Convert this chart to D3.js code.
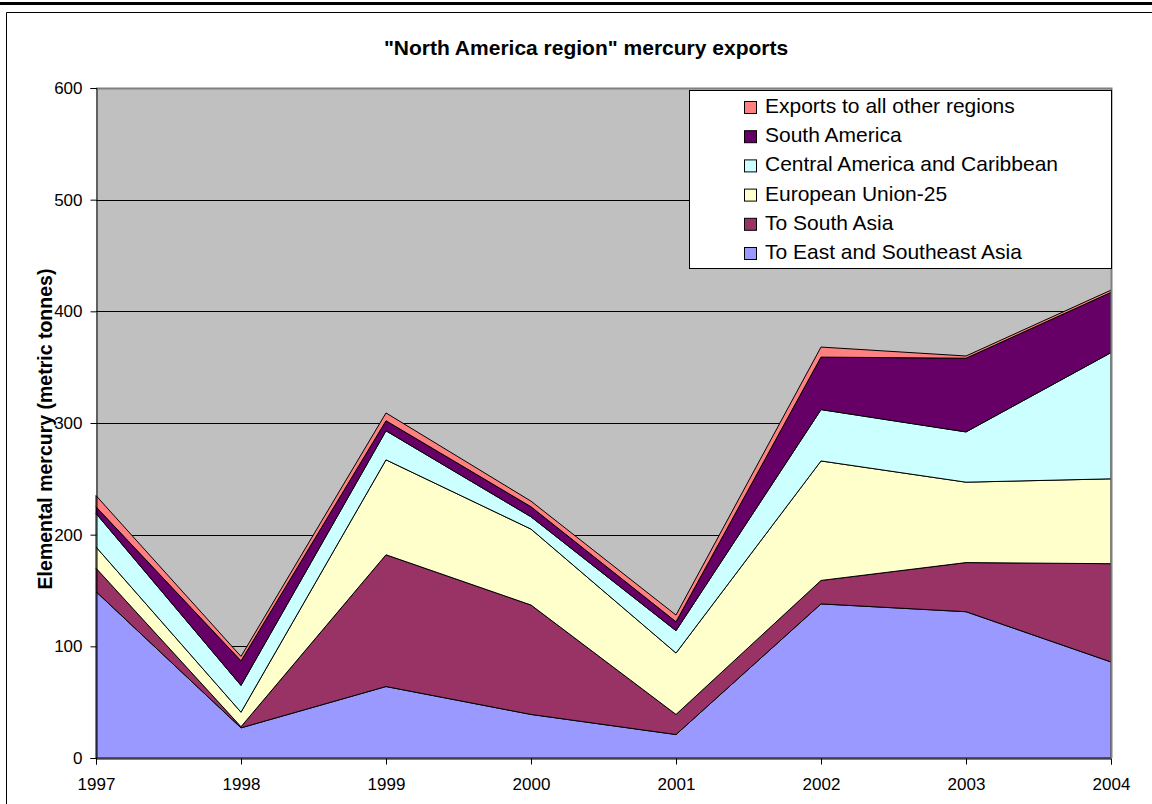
<!DOCTYPE html>
<html>
<head>
<meta charset="utf-8">
<script src="https://cdn.jsdelivr.net/npm/d3@7"></script>
<style>
  body { margin: 0; background: #fff; }
  text { font-family: Arial, "Liberation Sans", sans-serif; }
</style>
</head>
<body>
<div id="chart"></div>
<script>
// years on the x axis
const years = [1997, 1998, 1999, 2000, 2001, 2002, 2003, 2004]

// series, bottom of stack first
const eastSoutheastAsia = [149, 27, 64, 39, 21, 138, 131, 86]
const southAsia         = [21, 1, 118, 98, 18, 21, 44, 88]
const europeanUnion     = [19, 13, 85, 68, 55, 107, 72, 76]
const centralAmerica    = [30, 24, 26, 11, 20, 46, 45, 113]
const southAmerica      = [6, 22, 9, 9, 8, 47, 66, 54]
const otherRegions      = [10, 4, 7, 5, 6, 9, 2, 2]

const seriesNames = [
  'To East and Southeast Asia',
  'To South Asia',
  'European Union-25',
  'Central America and Caribbean',
  'South America',
  'Exports to all other regions'
]
const seriesValues = [eastSoutheastAsia, southAsia, europeanUnion, centralAmerica, southAmerica, otherRegions]
const colors = ['#9999ff', '#993366', '#ffffcc', '#ccffff', '#660066', '#ff8080']
const yTicks = [0, 100, 200, 300, 400, 500, 600]

const width = 1152, height = 804
const plotL = 96, plotR = 1111, plotT = 88, plotB = 758

const svg = d3.select('#chart').append('svg')
  .attr('width', width)
  .attr('height', height)

// outer frame
svg.append('line').attr('x1', 0).attr('x2', width).attr('y1', 3.5).attr('y2', 3.5)
  .attr('stroke', '#000').attr('stroke-width', 3)
svg.append('path').attr('d', `M6.5,${height} V12.5 H${width}`)
  .attr('fill', 'none').attr('stroke', '#000').attr('stroke-width', 1)

const x = d3.scalePoint().domain(years).range([plotL, plotR])
const y = d3.scaleLinear().domain([0, 600]).range([plotB, plotT])

// plot background
svg.append('rect')
  .attr('x', plotL).attr('y', plotT)
  .attr('width', plotR - plotL).attr('height', plotB - plotT)
  .attr('fill', '#c0c0c0')

// gridlines
svg.selectAll('.grid')
  .data(yTicks.filter(d => d > 0 && d < 600))
  .enter().append('line')
  .attr('x1', plotL).attr('x2', plotR)
  .attr('y1', d => Math.round(y(d)) + 0.5).attr('y2', d => Math.round(y(d)) + 0.5)
  .attr('stroke', '#000').attr('stroke-width', 1)

// stacked data
const table = years.map((yr, i) => {
  const row = { year: yr }
  seriesNames.forEach((n, j) => { row[n] = seriesValues[j][i] })
  return row
})
const stack = d3.stack().keys(seriesNames)(table)

const area = d3.area()
  .x(d => x(d.data.year))
  .y0(d => y(d[0]))
  .y1(d => y(d[1]))

svg.selectAll('.layer')
  .data(stack)
  .enter().append('path')
  .attr('d', area)
  .attr('fill', (d, i) => colors[i])
  .attr('stroke', '#000')
  .attr('stroke-width', 1)
  .attr('stroke-linejoin', 'round')

// plot border: top and right gray
svg.append('path')
  .attr('d', `M${plotL},${plotT + 0.5} H${plotR + 0.5} V${plotB}`)
  .attr('fill', 'none').attr('stroke', '#808080').attr('stroke-width', 2)

// axes
const yAxis = d3.axisLeft(y).tickValues(yTicks).tickSize(6).tickPadding(8)
const gy = svg.append('g').attr('transform', `translate(${plotL + 0.5},0)`).call(yAxis)
gy.select('.domain').attr('stroke', '#000')
gy.selectAll('text').attr('font-size', 17).attr('fill', '#000')

const xAxis = d3.axisBottom(x).tickSize(6).tickPadding(13).tickFormat(d3.format('d'))
const gx = svg.append('g').attr('transform', `translate(0,${plotB + 0.5})`).call(xAxis)
gx.select('.domain').attr('stroke', '#000')
gx.selectAll('text').attr('font-size', 17).attr('fill', '#000')

// title
svg.append('text')
  .attr('x', 586).attr('y', 55)
  .attr('text-anchor', 'middle')
  .attr('font-size', 21).attr('font-weight', 'bold')
  .text('"North America region" mercury exports')

// y label
svg.append('text')
  .attr('transform', 'translate(52,429) rotate(-90)')
  .attr('text-anchor', 'middle')
  .attr('font-size', 19.5).attr('font-weight', 'bold')
  .text('Elemental mercury (metric tonnes)')

// legend
svg.append('rect')
  .attr('x', 689.5).attr('y', 90.5)
  .attr('width', 422).attr('height', 178)
  .attr('fill', '#fff').attr('stroke', '#000')

const legendOrder = d3.range(seriesNames.length).reverse()
const items = svg.selectAll('.leg')
  .data(legendOrder)
  .enter().append('g')
  .attr('transform', (d, i) => `translate(744,${113 + i * 29.2})`)

items.append('rect')
  .attr('x', 0.5).attr('y', -11.5)
  .attr('width', 12).attr('height', 12)
  .attr('fill', d => colors[d])
  .attr('stroke', '#000')

items.append('text')
  .attr('x', 21).attr('y', 0)
  .attr('font-size', 21)
  .text(d => seriesNames[d])
</script>
</body>
</html>
